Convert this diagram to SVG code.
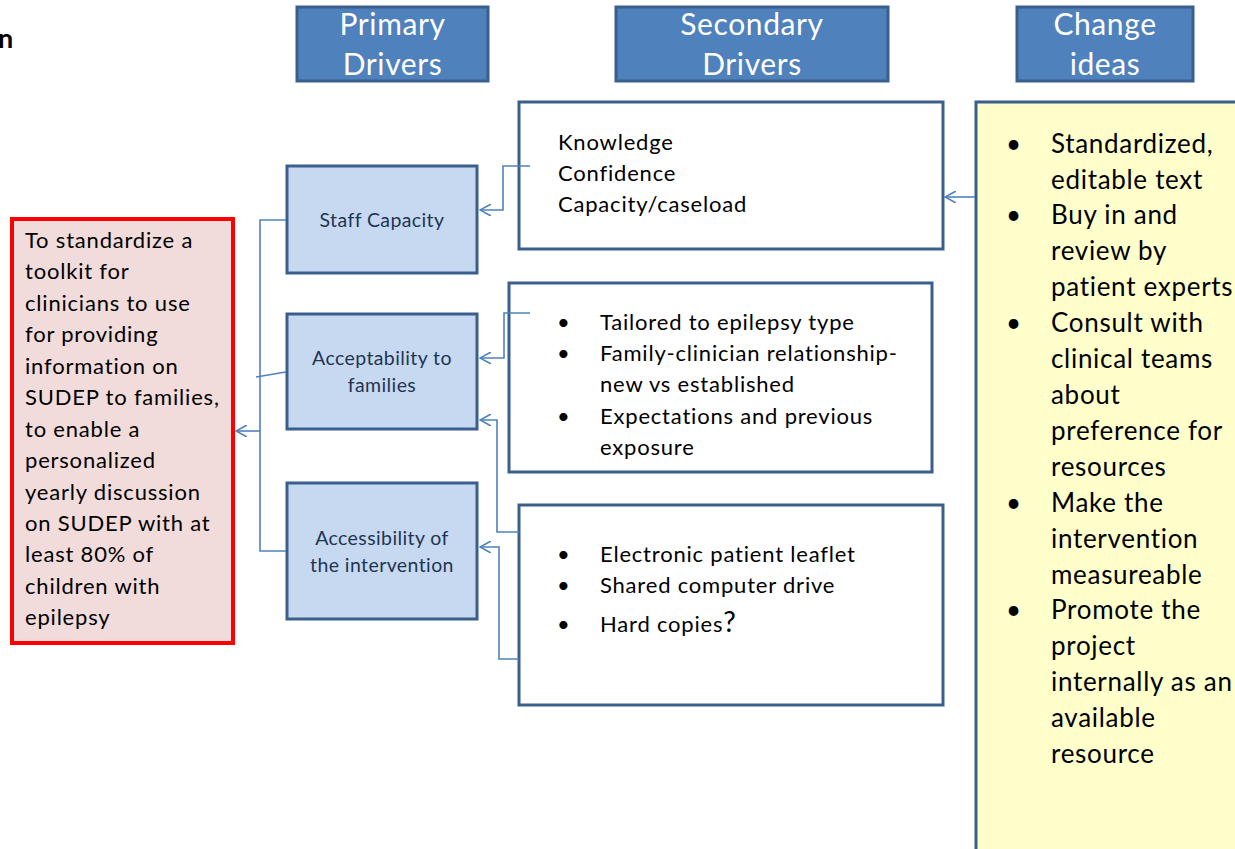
<svg xmlns="http://www.w3.org/2000/svg" width="1235" height="849" viewBox="0 0 1235 849">
<style>
.hdr{fill:#4f81bd;stroke:#3a5f8c;stroke-width:3}
.hdrt{fill:#ffffff;font-family:Lato,"Open Sans",sans-serif;font-size:30px;letter-spacing:0.6px;text-anchor:middle}
.pri{fill:#c6d9f1;stroke:#3a5f8c;stroke-width:3}
.prit{fill:#1f3553;font-family:Lato,"Open Sans",sans-serif;font-size:19.5px;letter-spacing:0.4px;text-anchor:middle}
.sec{fill:#ffffff;stroke:#3a5f8c;stroke-width:3}
.t{fill:#000000;font-family:Lato,"Open Sans",sans-serif;font-size:22px;letter-spacing:0.8px}
.ct{fill:#000000;font-family:Lato,"Open Sans",sans-serif;font-size:26px;letter-spacing:0.7px}
.con{fill:none;stroke:#4f81bd;stroke-width:1.6}
</style>
<defs>
<marker id="arr" viewBox="0 0 12 12" refX="11" refY="6" markerWidth="12" markerHeight="12" markerUnits="userSpaceOnUse" orient="auto">
<polyline points="0,0 11,6 0,12" fill="none" stroke="#4f81bd" stroke-width="1.6"/>
</marker>
</defs>
<rect width="1235" height="849" fill="#ffffff"/>
<text x="-2" y="48" style="font-family:Lato,'Open Sans',sans-serif;font-size:27px;font-weight:bold" fill="#000">n</text>

<g id="hdr-primary">
<rect class="hdr" x="297" y="7" width="191" height="74"/>
<text class="hdrt" x="392.5" y="35">Primary</text>
<text class="hdrt" x="392.5" y="75">Drivers</text>
</g>
<g id="hdr-secondary">
<rect class="hdr" x="616" y="7" width="272" height="74"/>
<text class="hdrt" x="752" y="35">Secondary</text>
<text class="hdrt" x="752" y="75">Drivers</text>
</g>
<g id="hdr-change">
<rect class="hdr" x="1017" y="7" width="176" height="74"/>
<text class="hdrt" x="1105" y="35">Change</text>
<text class="hdrt" x="1105" y="75">ideas</text>
</g>

<g id="aim">
<rect x="12" y="219" width="221" height="424" fill="#f2dcdb" stroke="#ff0000" stroke-width="4"/>
<text class="t" x="25" y="248">To standardize a</text>
<text class="t" x="25" y="279">toolkit for</text>
<text class="t" x="25" y="311">clinicians to use</text>
<text class="t" x="25" y="342">for providing</text>
<text class="t" x="25" y="374">information on</text>
<text class="t" x="25" y="405">SUDEP to families,</text>
<text class="t" x="25" y="437">to enable a</text>
<text class="t" x="25" y="468">personalized</text>
<text class="t" x="25" y="500">yearly discussion</text>
<text class="t" x="25" y="531">on SUDEP with at</text>
<text class="t" x="25" y="562">least 80% of</text>
<text class="t" x="25" y="594">children with</text>
<text class="t" x="25" y="625">epilepsy</text>
</g>

<g id="p-staff">
<rect class="pri" x="287" y="166" width="190" height="107"/>
<text class="prit" x="382" y="227">Staff Capacity</text>
</g>
<g id="p-accept">
<rect class="pri" x="287" y="314" width="190" height="115"/>
<text class="prit" x="382" y="365">Acceptability to</text>
<text class="prit" x="382" y="392">families</text>
</g>
<g id="p-access">
<rect class="pri" x="287" y="483" width="190" height="136"/>
<text class="prit" x="382" y="545">Accessibility of</text>
<text class="prit" x="382" y="572">the intervention</text>
</g>

<g id="s-staff">
<rect class="sec" x="519" y="102" width="424" height="147"/>
<text class="t" x="558" y="150">Knowledge</text>
<text class="t" x="558" y="181">Confidence</text>
<text class="t" x="558" y="212">Capacity/caseload</text>
</g>
<g id="s-accept">
<rect class="sec" x="509" y="283" width="423" height="189"/>
<text class="t" x="557" y="330">•</text><text class="t" x="600" y="330">Tailored to epilepsy type</text>
<text class="t" x="557" y="361">•</text><text class="t" x="600" y="361">Family-clinician relationship-</text>
<text class="t" x="600" y="392">new vs established</text>
<text class="t" x="557" y="424">•</text><text class="t" x="600" y="424">Expectations and previous</text>
<text class="t" x="600" y="455">exposure</text>
</g>
<g id="s-access">
<rect class="sec" x="519" y="505" width="424" height="200"/>
<text class="t" x="557" y="562">•</text><text class="t" x="600" y="562">Electronic patient leaflet</text>
<text class="t" x="557" y="593">•</text><text class="t" x="600" y="593">Shared computer drive</text>
<text class="t" x="557" y="632">•</text><text class="t" x="600" y="632">Hard copies<tspan style="font-size:28px">?</tspan></text>
</g>

<g id="change-ideas">
<rect x="976" y="102" width="270" height="760" fill="#ffffcc" stroke="#3a5f8c" stroke-width="3"/>
<text class="ct" x="1006" y="153">•</text><text class="ct" x="1051" y="153">Standardized,</text>
<text class="ct" x="1051" y="189">editable text</text>
<text class="ct" x="1006" y="224">•</text><text class="ct" x="1051" y="224">Buy in and</text>
<text class="ct" x="1051" y="260">review by</text>
<text class="ct" x="1051" y="296">patient experts</text>
<text class="ct" x="1006" y="332">•</text><text class="ct" x="1051" y="332">Consult with</text>
<text class="ct" x="1051" y="368">clinical teams</text>
<text class="ct" x="1051" y="404">about</text>
<text class="ct" x="1051" y="440">preference for</text>
<text class="ct" x="1051" y="476">resources</text>
<text class="ct" x="1006" y="512">•</text><text class="ct" x="1051" y="512">Make the</text>
<text class="ct" x="1051" y="548">intervention</text>
<text class="ct" x="1051" y="584">measureable</text>
<text class="ct" x="1006" y="619">•</text><text class="ct" x="1051" y="619">Promote the</text>
<text class="ct" x="1051" y="655">project</text>
<text class="ct" x="1051" y="691">internally as an</text>
<text class="ct" x="1051" y="727">available</text>
<text class="ct" x="1051" y="763">resource</text>
</g>

<g id="connectors">
<polyline class="con" points="286,220 260,220 260,551 286,551"/>
<line class="con" x1="286" y1="372" x2="256" y2="377"/>
<line class="con" x1="260" y1="431" x2="236" y2="431" marker-end="url(#arr)"/>
<polyline class="con" points="530,166 503,166 503,210 480,210" marker-end="url(#arr)"/>
<polyline class="con" points="530,313 504,313 504,358 480,358" marker-end="url(#arr)"/>
<polyline class="con" points="519,532 497,532 497,420 480,420" marker-end="url(#arr)"/>
<polyline class="con" points="519,659 499,659 499,547 480,547" marker-end="url(#arr)"/>
<line class="con" x1="975" y1="197" x2="945" y2="197" marker-end="url(#arr)"/>
</g>
</svg>
